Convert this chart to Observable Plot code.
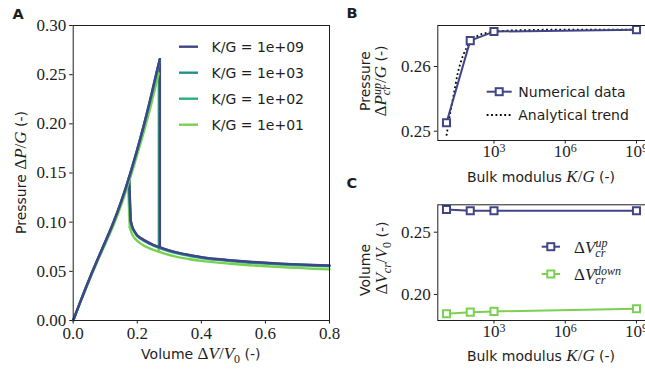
<!DOCTYPE html>
<html><head><meta charset="utf-8">
<script src="https://cdn.jsdelivr.net/npm/d3@7"></script>
<script src="https://cdn.jsdelivr.net/npm/@observablehq/plot@0.6"></script>
<style>
html,body{margin:0;padding:0;background:#fff;}
#wrap{position:relative;width:645px;height:375px;overflow:hidden;background:#fff;}
#wrap > svg{position:absolute;overflow:visible;}
</style></head><body><div id="wrap"></div>
<script>
const SANS = "'DejaVu Sans', sans-serif";
const SERIF = "'Liberation Serif', 'Times New Roman', serif";
const INK = "#1e1e1e";
const TICK_FS = "17px";

// ---------- Panel A data ----------
const seriesNames = ["K/G = 1e+09", "K/G = 1e+03", "K/G = 1e+02", "K/G = 1e+01"];
const seriesColors = ["#414487", "#21918c", "#2ab07f", "#7ad151"];
const xTicksA = [0, 0.2, 0.4, 0.6, 0.8];
const yTicksA = [0, 0.05, 0.10, 0.15, 0.20, 0.25, 0.30];

// loading branch (volume, pressure)
const vLoad = [0, 0.02, 0.04, 0.06, 0.08, 0.10, 0.12, 0.14, 0.16, 0.18, 0.20, 0.22, 0.24, 0.26];
const pLoad_1e9 = [0, 0.0172, 0.0338, 0.0498, 0.0652, 0.0802, 0.0954, 0.1122, 0.1310, 0.1518, 0.1742, 0.1982, 0.2242, 0.2522];
const pLoad_1e3 = [0, 0.0172, 0.0338, 0.0498, 0.0652, 0.0802, 0.0954, 0.1122, 0.1309, 0.1516, 0.1740, 0.1979, 0.2239, 0.2518];
const pLoad_1e2 = [0, 0.0171, 0.0336, 0.0495, 0.0647, 0.0796, 0.0947, 0.1114, 0.1300, 0.1507, 0.1729, 0.1966, 0.2222, 0.2498];
const pLoad_1e1 = [0, 0.0167, 0.0328, 0.0483, 0.0632, 0.0778, 0.0925, 0.1088, 0.1271, 0.1472, 0.1690, 0.1913, 0.2153, 0.2421];

// snap-through points (per series, same order as seriesNames)
const vPeak = [0.2705, 0.2703, 0.2693, 0.2668];
const pPeak = [0.2657, 0.2654, 0.2640, 0.2513];
const pDrop = [0.0745, 0.0743, 0.0737, 0.0700];
const vJumpTop = [0.1745, 0.1743, 0.1735, 0.1712];
const pJumpTop = [0.1461, 0.1457, 0.1440, 0.1383];
const vJumpBot = [0.1795, 0.1793, 0.1785, 0.1765];
const pJumpBot = [0.102, 0.1015, 0.100, 0.095];

// lower (post-snap) branch
const vLow = [0.185, 0.19, 0.20, 0.22, 0.25, 0.28, 0.32, 0.36, 0.40, 0.45, 0.50, 0.55, 0.60, 0.65, 0.70, 0.75, 0.80];
const pLow_1e9 = [0.0949, 0.0915, 0.0866, 0.0820, 0.0770, 0.0733, 0.0695, 0.0668, 0.0645, 0.0625, 0.0610, 0.0597, 0.0587, 0.0578, 0.0571, 0.0565, 0.0559];
const pLow_1e3 = [0.0946, 0.0912, 0.0863, 0.0818, 0.0768, 0.0731, 0.0693, 0.0666, 0.0643, 0.0623, 0.0608, 0.0595, 0.0585, 0.0576, 0.0569, 0.0563, 0.0557];
const pLow_1e2 = [0.0938, 0.0905, 0.0857, 0.0811, 0.0761, 0.0724, 0.0686, 0.0659, 0.0636, 0.0616, 0.0601, 0.0588, 0.0578, 0.0569, 0.0562, 0.0556, 0.0550];
const pLow_1e1 = [0.0870, 0.0845, 0.0810, 0.0762, 0.0718, 0.0685, 0.0650, 0.0626, 0.0606, 0.0588, 0.0574, 0.0562, 0.0552, 0.0543, 0.0535, 0.0527, 0.0520];

// ---------- Panels B & C data ----------
const kg = [1e1, 1e2, 1e3, 1e9];
const kgTicks = [1e3, 1e6, 1e9];
const pUpNum = [0.2513, 0.2640, 0.2654, 0.2657];
const kgTrend = [10, 15, 20, 30, 50, 70, 100, 200, 500, 1000, 1e4, 1e6, 1e9];
const pUpTrend = [0.2493, 0.2532, 0.2556, 0.2590, 0.2617, 0.2629, 0.2637, 0.2647, 0.2652, 0.2654, 0.2656, 0.2657, 0.2657];
const yTicksB = [0.25, 0.26];
const vUp = [0.2682, 0.2672, 0.2672, 0.2672];
const vDown = [0.1845, 0.1858, 0.1864, 0.1885];
const yTicksC = [0.20, 0.25];
const BLUE = "#414487", GREEN = "#7ad151";

const wrap = document.getElementById("wrap");

// ---------- build Panel A rows ----------
const pLoadAll = [pLoad_1e9, pLoad_1e3, pLoad_1e2, pLoad_1e1];
const pLowAll = [pLow_1e9, pLow_1e3, pLow_1e2, pLow_1e1];
const loadRows = [], lowRows = [], snapRows = [];
for (let s = seriesNames.length - 1; s >= 0; s--) {
  const name = seriesNames[s];
  vLoad.forEach((v, i) => { if (v < vPeak[s]) loadRows.push({v, p: pLoadAll[s][i], series: name}); });
  loadRows.push({v: vPeak[s], p: pPeak[s], series: name});
  snapRows.push({v: vPeak[s], p: pPeak[s], series: name, key: name + "|a"});
  snapRows.push({v: vPeak[s], p: pDrop[s], series: name, key: name + "|a"});
  snapRows.push({v: vJumpTop[s], p: pJumpTop[s], series: name, key: name + "|b"});
  snapRows.push({v: vJumpBot[s], p: pJumpBot[s], series: name, key: name + "|b"});
  lowRows.push({v: vJumpBot[s], p: pJumpBot[s], series: name});
  let placed = false;
  vLow.forEach((v, i) => {
    if (!placed && v > vPeak[s]) { lowRows.push({v: vPeak[s], p: pDrop[s], series: name}); placed = true; }
    lowRows.push({v, p: pLowAll[s][i], series: name});
  });
}

const baseStyle = {fontFamily: SERIF, fontSize: TICK_FS, color: INK, background: "transparent", overflow: "visible"};

const plotA = Plot.plot({
  width: 340, height: 375,
  marginLeft: 72.7, marginRight: 11, marginTop: 25, marginBottom: 55,
  style: baseStyle,
  x: {domain: [0, 0.8], ticks: xTicksA, tickFormat: d3.format(".1f"), tickSize: 3.5, tickPadding: 3, label: null},
  y: {domain: [0, 0.30], ticks: yTicksA, tickFormat: d3.format(".2f"), tickSize: 3.5, tickPadding: 3.5, label: null},
  color: {domain: seriesNames, range: seriesColors},
  marks: [
    Plot.line(snapRows, {x: "v", y: "p", z: "key", stroke: "series", strokeWidth: 2.4}),
    Plot.line(lowRows, {x: "v", y: "p", z: "series", stroke: "series", strokeWidth: 2.4, curve: "catmull-rom"}),
    Plot.line(loadRows, {x: "v", y: "p", z: "series", stroke: "series", strokeWidth: 2.4, curve: "catmull-rom"}),
    Plot.frame({stroke: INK, strokeWidth: 1})
  ]
});
plotA.style.left = "0px"; plotA.style.top = "0px";
wrap.appendChild(plotA);

const numRows = kg.map((k, i) => ({k, p: pUpNum[i]}));
const trendRows = kgTrend.map((k, i) => ({k, p: pUpTrend[i]}));
const logDomain = [10 ** 0.634, 10 ** 9.464];
const logFmt = d => "10^" + Math.round(Math.log10(d));

const plotB = Plot.plot({
  width: 307, height: 190,
  marginLeft: 97.3, marginRight: 0, marginTop: 25, marginBottom: 50,
  style: baseStyle,
  x: {type: "log", domain: logDomain, ticks: kgTicks, tickFormat: logFmt, tickSize: 3.5, tickPadding: 1, label: null},
  y: {domain: [0.24856, 0.26634], ticks: yTicksB, tickFormat: d3.format(".2f"), tickSize: 3.5, tickPadding: 3.5, label: null},
  marks: [
    Plot.line(trendRows, {x: "k", y: "p", stroke: "#000", strokeWidth: 1.8, strokeDasharray: "1.8,2.6", strokeLinecap: "butt", curve: "monotone-x"}),
    Plot.line(numRows, {x: "k", y: "p", stroke: BLUE, strokeWidth: 2}),
    Plot.dot(numRows, {x: "k", y: "p", symbol: "square", r: 4, stroke: BLUE, strokeWidth: 2, fill: "white"}),
    Plot.frame({stroke: INK, strokeWidth: 1})
  ]
});
plotB.style.left = "340px"; plotB.style.top = "0px";
wrap.appendChild(plotB);

const upRows = kg.map((k, i) => ({k, v: vUp[i]}));
const downRows = kg.map((k, i) => ({k, v: vDown[i]}));
const plotC = Plot.plot({
  width: 307, height: 190,
  marginLeft: 97.3, marginRight: 0, marginTop: 19.3, marginBottom: 55,
  style: baseStyle,
  x: {type: "log", domain: logDomain, ticks: kgTicks, tickFormat: logFmt, tickSize: 3.5, tickPadding: 1, label: null},
  y: {domain: [0.1791, 0.2720], ticks: yTicksC, tickFormat: d3.format(".2f"), tickSize: 3.5, tickPadding: 3.5, label: null},
  marks: [
    Plot.line(upRows, {x: "k", y: "v", stroke: BLUE, strokeWidth: 2}),
    Plot.dot(upRows, {x: "k", y: "v", symbol: "square", r: 4, stroke: BLUE, strokeWidth: 2, fill: "white"}),
    Plot.line(downRows, {x: "k", y: "v", stroke: GREEN, strokeWidth: 2}),
    Plot.dot(downRows, {x: "k", y: "v", symbol: "square", r: 4, stroke: GREEN, strokeWidth: 2, fill: "white"}),
    Plot.frame({stroke: INK, strokeWidth: 1})
  ]
});
plotC.style.left = "340px"; plotC.style.top = "185px";
wrap.appendChild(plotC);

// serif tick labels; power-of-ten labels with real superscripts
for (const svg of [plotA, plotB, plotC]) {
  d3.select(svg).selectAll("text").style("font-family", SERIF).style("font-size", TICK_FS).style("fill", INK);
}
for (const svg of [plotB, plotC]) {
  d3.select(svg).selectAll("text").each(function () {
    const s = this.textContent;
    if (s.startsWith("10^")) {
      const e = s.slice(3);
      const t = d3.select(this);
      t.text(null);
      t.append("tspan").text("10");
      t.append("tspan").attr("dy", "-0.45em").style("font-size", "12px").text(e);
    }
  });
}

// ---------- overlay: labels, legends, panel letters ----------
const ov = d3.select(wrap).append("svg")
  .attr("width", 645).attr("height", 375)
  .style("left", "0px").style("top", "0px").style("pointer-events", "none");

function rich(x, y, parts, opts = {}) {
  const t = ov.append("text")
    .attr("x", x).attr("y", y + (opts.shift ?? 5))
    .attr("text-anchor", opts.anchor || "middle")
    .attr("fill", INK);
  if (opts.rotate) t.attr("transform", `rotate(-90 ${x} ${y})`);
  for (const p of parts) {
    const ts = t.append("tspan").text(p.t)
      .attr("font-family", p.f === "sans" ? SANS : SERIF)
      .attr("font-size", p.s || (p.f === "sans" ? 14 : 17));
    if (p.f === "ital") ts.attr("font-style", "italic");
    if (p.dy) ts.attr("dy", p.dy);
    if (p.dx) ts.attr("dx", p.dx);
  }
  return t;
}
const S = t => ({t, f: "sans"});
const M = t => ({t, f: "serif"});
const I = t => ({t, f: "ital"});

// panel letters
[["A", 12.5, 18.5], ["B", 346.5, 17.5], ["C", 346.5, 187.5]].forEach(([l, x, y]) => {
  ov.append("text").attr("x", x).attr("y", y).attr("font-family", SANS).attr("font-weight", "bold")
    .attr("font-size", 14.5).attr("fill", INK).text(l);
});

// Panel A labels
rich(21, 172.5, [S("Pressure "), M("Δ"), I("P"), M("/"), I("G"), S(" (-)")], {rotate: true});
rich(200.8, 354, [S("Volume "), M("Δ"), I("V"), M("/"), I("V"), {t: "0", f: "serif", s: 12, dy: 4}, {t: " (-)", f: "sans", dy: -4}]);

// Panel B labels
rich(541, 177, [S("Bulk modulus "), I("K"), M("/"), I("G"), S(" (-)")]);
rich(365, 81, [S("Pressure")], {rotate: true});
rich(381, 81, [M("Δ"), I("P"), {t: "cr", f: "ital", s: 12, dy: 4}, {t: "up", f: "ital", s: 12, dy: -9.5, dx: -9.8}, {t: "/", f: "serif", dy: 5.5}, I("G"), S(" (-)")], {rotate: true});

// Panel C labels
rich(541, 356, [S("Bulk modulus "), I("K"), M("/"), I("G"), S(" (-)")]);
rich(365, 270, [S("Volume")], {rotate: true});
rich(381.5, 258, [M("Δ"), I("V"), {t: "cr", f: "ital", s: 12, dy: 4}, {t: "/", f: "serif", dy: -4}, I("V"), {t: "0", f: "serif", s: 12, dy: 4}, {t: " (-)", f: "sans", dy: -4}], {rotate: true});

// Panel A legend
const legA = [46.7, 72.7, 98.7, 124.7];
seriesNames.forEach((name, i) => {
  ov.append("line").attr("x1", 179).attr("x2", 198).attr("y1", legA[i]).attr("y2", legA[i])
    .attr("stroke", seriesColors[i]).attr("stroke-width", 2.4);
  rich(211.5, legA[i], [S(name)], {anchor: "start"});
});

// Panel B legend
function squareMarker(cx, cy, color) {
  ov.append("rect").attr("x", cx - 3.5).attr("y", cy - 3.5).attr("width", 7).attr("height", 7)
    .attr("fill", "white").attr("stroke", color).attr("stroke-width", 2);
}
ov.append("line").attr("x1", 486.7).attr("x2", 511.7).attr("y1", 91.7).attr("y2", 91.7).attr("stroke", BLUE).attr("stroke-width", 2);
squareMarker(499.2, 91.7, BLUE);
rich(518.3, 91.7, [S("Numerical data")], {anchor: "start"});
ov.append("line").attr("x1", 486.7).attr("x2", 511.7).attr("y1", 115).attr("y2", 115).attr("stroke", "#000").attr("stroke-width", 1.8).attr("stroke-dasharray", "1.8,2.6");
rich(518.3, 115, [S("Analytical trend")], {anchor: "start"});

// Panel C legend
ov.append("line").attr("x1", 541.7).attr("x2", 560).attr("y1", 246.7).attr("y2", 246.7).attr("stroke", BLUE).attr("stroke-width", 2);
squareMarker(550.8, 246.7, BLUE);
rich(574, 246.7, [M("Δ"), I("V"), {t: "cr", f: "ital", s: 12, dy: 4}, {t: "up", f: "ital", s: 12, dy: -9.5, dx: -9.8}], {anchor: "start", shift: 6});
ov.append("line").attr("x1", 541.7).attr("x2", 560).attr("y1", 274).attr("y2", 274).attr("stroke", GREEN).attr("stroke-width", 2);
squareMarker(550.8, 274, GREEN);
rich(574, 274, [M("Δ"), I("V"), {t: "cr", f: "ital", s: 12, dy: 4}, {t: "down", f: "ital", s: 12, dy: -9.5, dx: -9.8}], {anchor: "start", shift: 6});
</script>
</body></html>
